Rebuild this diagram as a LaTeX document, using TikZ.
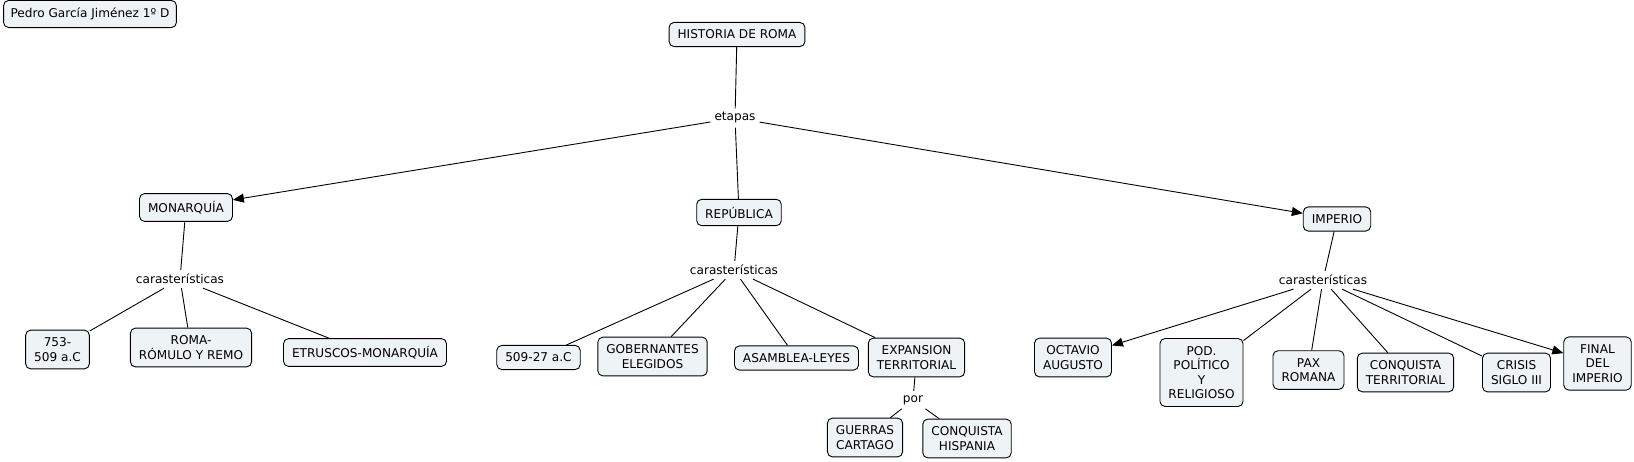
\documentclass[tikz,border=0pt]{standalone}
\usepackage{fontspec}
\setmainfont{DejaVu Sans}
\usetikzlibrary{arrows.meta}
\definecolor{boxbg}{RGB}{238,243,245}

\begin{document}
\begin{tikzpicture}[x=1pt, y=-1pt, font=\fontsize{12.1}{14.6}\selectfont,
  c/.style={rectangle, rounded corners=5pt, draw=black, line width=0.9pt, fill=boxbg,
            align=center, inner xsep=8.5pt, inner ysep=7.5pt},
  lk/.style={inner xsep=4pt, inner ysep=4pt},
  ln/.style={line width=0.9pt, draw=black},
  arr/.style={ln, -{Triangle[length=11pt, width=9pt]}}]
\useasboundingbox (0,0) rectangle (1634,461);
% top
\node[c, inner xsep=7pt] (pedro) at (90,14) {Pedro García Jiménez 1º D};
\node[c] (hist) at (737,34.5) {HISTORIA DE ROMA};
\node[lk] (etapas) at (735,118) {etapas};
\node[c] (mon) at (186,207.5) {MONARQUÍA};
\node[c] (rep) at (739,212.5) {REPÚBLICA};
\node[c] (imp) at (1337,219) {IMPERIO};
\draw[ln] (hist)--(etapas); \draw[ln] (etapas)--(rep);
\draw[arr] (etapas)--(mon); \draw[arr] (etapas)--(imp);
% monarquia
\node[lk] (carmon) at (180,279) {carasterísticas};
\node[c] (m1) at (57.5,349.5) {753-\\509 a.C};
\node[c] (m2) at (191,347.5) {ROMA-\\RÓMULO Y REMO};
\node[c] (m3) at (365,352.5) {ETRUSCOS-MONARQUÍA};
\draw[ln] (mon)--(carmon);
\draw[ln] (carmon)--(m1); \draw[ln] (carmon)--(m2); \draw[ln] (carmon)--(m3);
% republica
\node[lk] (carrep) at (734,270) {carasterísticas};
\node[c] (r1) at (538.5,357.5) {509-27 a.C};
\node[c] (r2) at (652.5,356.5) {GOBERNANTES\\ELEGIDOS};
\node[c] (r3) at (796.5,358) {ASAMBLEA-LEYES};
\node[c] (r4) at (916.5,357.5) {EXPANSION\\TERRITORIAL};
\node[lk] (por) at (913,400) {por};
\node[c] (e1) at (865,437.5) {GUERRAS\\CARTAGO};
\node[c] (e2) at (967,438.5) {CONQUISTA\\HISPANIA};
\draw[ln] (rep)--(carrep);
\draw[ln] (carrep)--(r1); \draw[ln] (carrep)--(r2); \draw[ln] (carrep)--(r3); \draw[ln] (carrep)--(r4);
\draw[ln] (r4)--(por); \draw[ln] (por)--(e1); \draw[ln] (por)--(e2);
% imperio
\node[lk] (carimp) at (1323,280) {carasterísticas};
\node[c] (i1) at (1073,357.5) {OCTAVIO\\AUGUSTO};
\node[c] (i2) at (1201.5,372.5) {POD.\\POLÍTICO\\Y\\RELIGIOSO};
\node[c] (i3) at (1308.5,370) {PAX\\ROMANA};
\node[c] (i4) at (1405.5,372.5) {CONQUISTA\\TERRITORIAL};
\node[c] (i5) at (1516.5,372.5) {CRISIS\\SIGLO III};
\node[c] (i6) at (1597.5,363.5) {FINAL\\DEL\\IMPERIO};
\draw[ln] (imp)--(carimp);
\draw[arr] (carimp)--(i1); \draw[ln] (carimp)--(i2); \draw[ln] (carimp)--(i3);
\draw[ln] (carimp)--(i4); \draw[ln] (carimp)--(i5); \draw[arr] (carimp)--(i6);
\end{tikzpicture}
\end{document}
